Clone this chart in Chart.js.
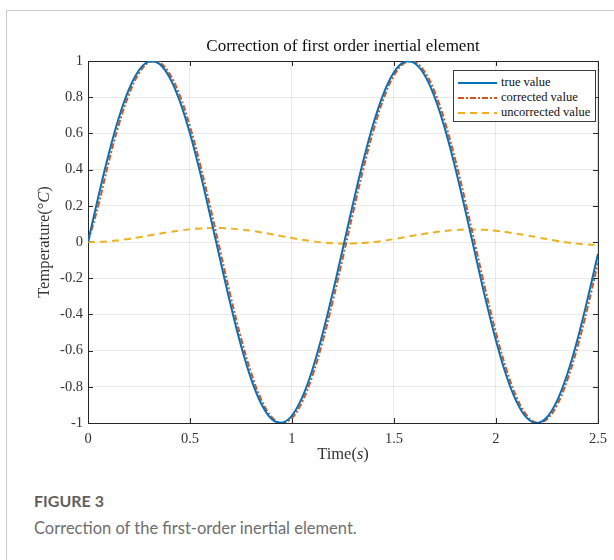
<!DOCTYPE html>
<html lang="en">
<head>
  <meta charset="UTF-8">
  <meta name="viewport" content="width=device-width, initial-scale=1.0">

  <!-- Chart.js -->
  <script src="https://cdn.jsdelivr.net/npm/chart.js@4.4.0/dist/chart.umd.min.js"></script>

  <title>Correction of first order inertial element</title>
  <style>
    body { margin: 0; background: #fff; }
    #card {
      position: absolute; left: 6px; top: 10px; width: 640px; height: 600px;
      border-left: 1px solid #cacaca; border-top: 1px solid #cacaca;
    }
    #chart { position: absolute; left: 0; top: 0; }
    #legend {
      position: absolute; left: 453px; top: 70px; width: 141px; height: 46px;
      border: 1px solid #3a3a3a; background: #fff; padding-top: 4px;
      font: 12.5px "Liberation Serif", "DejaVu Serif", serif; color: #111;
    }
    #legend .row { display: flex; align-items: center; height: 15px; white-space: nowrap; }
    #legend svg { margin: 0 4px 0 4px; }
    .fig-no {
      position: absolute; left: 34px; top: 491px;
      font: 700 16px Lato, "Open Sans", sans-serif; color: #5f5f5f;
    }
    .fig-text {
      position: absolute; left: 34px; top: 518px;
      font: 16.5px Lato, "Open Sans", sans-serif; color: #6e6e6e;
    }
  </style>
</head>
<body>
  <div id="card"></div>
  <canvas id="chart" width="614" height="470"></canvas>
  <div id="legend"></div>
  <div class="fig-no">FIGURE 3</div>
  <div class="fig-text">Correction of the first-order inertial element.</div>

  <script>
    // sample times (s)
    const timeS = [
      0, 0.05, 0.1, 0.15, 0.2, 0.25, 0.3, 0.35, 0.4, 0.45,
      0.5, 0.55, 0.6, 0.65, 0.7, 0.75, 0.8, 0.85, 0.9, 0.95,
      1.0, 1.05, 1.1, 1.15, 1.2, 1.25, 1.3, 1.35, 1.4, 1.45,
      1.5, 1.55, 1.6, 1.65, 1.7, 1.75, 1.8, 1.85, 1.9, 1.95,
      2.0, 2.05, 2.1, 2.15, 2.2, 2.25, 2.3, 2.35, 2.4, 2.45, 2.5
    ];

    // true temperature
    const trueValue = [
      0, 0.247, 0.479, 0.682, 0.842, 0.949, 0.998, 0.984, 0.909, 0.778,
      0.599, 0.382, 0.141, -0.108, -0.351, -0.572, -0.757, -0.895, -0.978, -0.999,
      -0.959, -0.859, -0.706, -0.508, -0.279, -0.033, 0.215, 0.450, 0.657, 0.823,
      0.938, 0.995, 0.989, 0.923, 0.799, 0.625, 0.412, 0.174, -0.075, -0.320,
      -0.544, -0.735, -0.880, -0.970, -1.000, -0.968, -0.876, -0.729, -0.537, -0.311, -0.066
    ];

    // sensor output after correction
    const correctedValue = [
      0, 0.199, 0.435, 0.644, 0.813, 0.932, 0.993, 0.992, 0.929, 0.809,
      0.638, 0.427, 0.190, -0.058, -0.304, -0.530, -0.723, -0.872, -0.966, -1.000,
      -0.972, -0.883, -0.740, -0.551, -0.327, -0.083, 0.166, 0.405, 0.619, 0.794,
      0.920, 0.988, 0.996, 0.941, 0.828, 0.663, 0.457, 0.223, -0.025, -0.272,
      -0.501, -0.700, -0.855, -0.957, -0.999, -0.979, -0.899, -0.762, -0.578, -0.358, -0.116
    ];

    // raw sensor output (first order lag)
    const uncorrectedValue = [
      0, 0.001, 0.004, 0.010, 0.017, 0.026, 0.036, 0.046, 0.055, 0.063,
      0.070, 0.075, 0.077, 0.077, 0.074, 0.069, 0.062, 0.053, 0.043, 0.032,
      0.022, 0.012, 0.004, -0.003, -0.007, -0.009, -0.008, -0.005, 0.000, 0.007,
      0.016, 0.026, 0.036, 0.045, 0.054, 0.061, 0.066, 0.069, 0.069, 0.067,
      0.062, 0.055, 0.046, 0.037, 0.026, 0.016, 0.006, -0.003, -0.009, -0.014, -0.016
    ];

    const xTicks = [0, 0.5, 1, 1.5, 2, 2.5];
    const yTicks = [-1, -0.8, -0.6, -0.4, -0.2, 0, 0.2, 0.4, 0.6, 0.8, 1];

    const serif = '"Liberation Serif", "DejaVu Serif", serif';
    const axisColor = '#262626';

    function toPoints(values) {
      return timeS.map((t, i) => ({ x: t, y: values[i] }));
    }

    // box with inward ticks on all four sides
    const axesBox = {
      id: 'axesBox',
      beforeDatasetsDraw(chart) {
        const { ctx, chartArea: a, scales: { x, y } } = chart;
        ctx.save();
        ctx.strokeStyle = axisColor;
        ctx.lineWidth = 1;
        ctx.beginPath();
        xTicks.forEach(v => {
          const px = Math.round(x.getPixelForValue(v)) + 0.5;
          ctx.moveTo(px, a.bottom); ctx.lineTo(px, a.bottom - 5);
          ctx.moveTo(px, a.top); ctx.lineTo(px, a.top + 5);
        });
        yTicks.forEach(v => {
          const py = Math.round(y.getPixelForValue(v)) + 0.5;
          ctx.moveTo(a.left, py); ctx.lineTo(a.left + 5, py);
          ctx.moveTo(a.right, py); ctx.lineTo(a.right - 5, py);
        });
        ctx.stroke();
        ctx.strokeRect(a.left + 0.5, a.top + 0.5, a.width, a.height);
        ctx.restore();
      }
    };

    // draw a label made of plain and italic parts, centred on (0, 0)
    function drawMixed(ctx, parts, size) {
      const fonts = parts.map(p => (p.italic ? 'italic ' : '') + size + 'px ' + serif);
      const widths = parts.map((p, i) => { ctx.font = fonts[i]; return ctx.measureText(p.text).width; });
      let cx = -widths.reduce((s, w) => s + w, 0) / 2;
      parts.forEach((p, i) => {
        ctx.font = fonts[i];
        ctx.fillText(p.text, cx, 0);
        cx += widths[i];
      });
    }

    // title and axis labels, centred on the axes box
    const axisTitles = {
      id: 'axisTitles',
      afterDraw(chart) {
        const { ctx, chartArea: a } = chart;
        const midX = (a.left + a.right) / 2;
        ctx.save();
        ctx.textAlign = 'left';
        ctx.textBaseline = 'middle';

        ctx.save();
        ctx.fillStyle = '#111';
        ctx.translate(midX, a.top - 14);
        drawMixed(ctx, [{ text: 'Correction of first order inertial element' }], 17);
        ctx.restore();

        ctx.fillStyle = '#333';
        ctx.save();
        ctx.translate(midX, a.bottom + 32);
        drawMixed(ctx, [{ text: 'Time(' }, { text: 's', italic: true }, { text: ')' }], 16.5);
        ctx.restore();

        ctx.save();
        ctx.translate(a.left - 43, (a.top + a.bottom) / 2);
        ctx.rotate(-Math.PI / 2);
        drawMixed(ctx, [{ text: 'Temperature(°' }, { text: 'C', italic: true }, { text: ')' }], 16.5);
        ctx.restore();

        ctx.restore();
      }
    };

    const elChart = document.getElementById('chart').getContext('2d');
    const myChart = new Chart(elChart, {
      type: 'line',
      data: {
        datasets: [{
          label: 'true value',
          data: toPoints(trueValue),
          borderColor: '#0072BD',
          borderWidth: 2,
          borderDash: []
        }, {
          label: 'corrected value',
          data: toPoints(correctedValue),
          borderColor: '#D95319',
          borderWidth: 2,
          borderDash: [6, 2, 2, 2]
        }, {
          label: 'uncorrected value',
          data: toPoints(uncorrectedValue),
          borderColor: '#EDB120',
          borderWidth: 2,
          borderDash: [7, 5]
        }]
      },
      options: {
        responsive: false,
        animation: false,
        layout: { padding: { left: 0, right: 9, top: 61, bottom: 0 } },
        elements: {
          point: { radius: 0 },
          line: { tension: 0.4, fill: false }
        },
        plugins: {
          legend: { display: false },
          tooltip: { enabled: false },
          title: { display: false }
        },
        scales: {
          x: {
            type: 'linear',
            min: 0,
            max: 2.5,
            afterFit: scale => { scale.height = 47; },
            afterBuildTicks: scale => { scale.ticks = xTicks.map(v => ({ value: v })); },
            grid: { color: 'rgba(38,38,38,0.1)', drawTicks: false },
            border: { display: false },
            ticks: {
              padding: 7,
              color: '#333',
              font: { family: serif, size: 14.5 },
              callback: v => String(Number(v.toFixed(1)))
            }
          },
          y: {
            min: -1,
            max: 1,
            afterFit: scale => { scale.width = 88; },
            afterBuildTicks: scale => { scale.ticks = yTicks.map(v => ({ value: v })); },
            grid: { color: 'rgba(38,38,38,0.1)', drawTicks: false },
            border: { display: false },
            ticks: {
              padding: 5,
              color: '#333',
              font: { family: serif, size: 14.5 },
              callback: v => String(Number(v.toFixed(1)))
            }
          }
        }
      },
      plugins: [axesBox, axisTitles]
    });

    // legend box inside the axes
    const legendBox = document.getElementById('legend');
    myChart.data.datasets.forEach(ds => {
      const row = document.createElement('div');
      row.className = 'row';
      row.innerHTML =
        `<svg width="39" height="6"><line x1="0" y1="3" x2="39" y2="3" stroke="${ds.borderColor}" ` +
        `stroke-width="2" stroke-dasharray="${ds.borderDash.join(' ')}"/></svg><span>${ds.label}</span>`;
      legendBox.appendChild(row);
    });
  </script>
</body>
</html>
